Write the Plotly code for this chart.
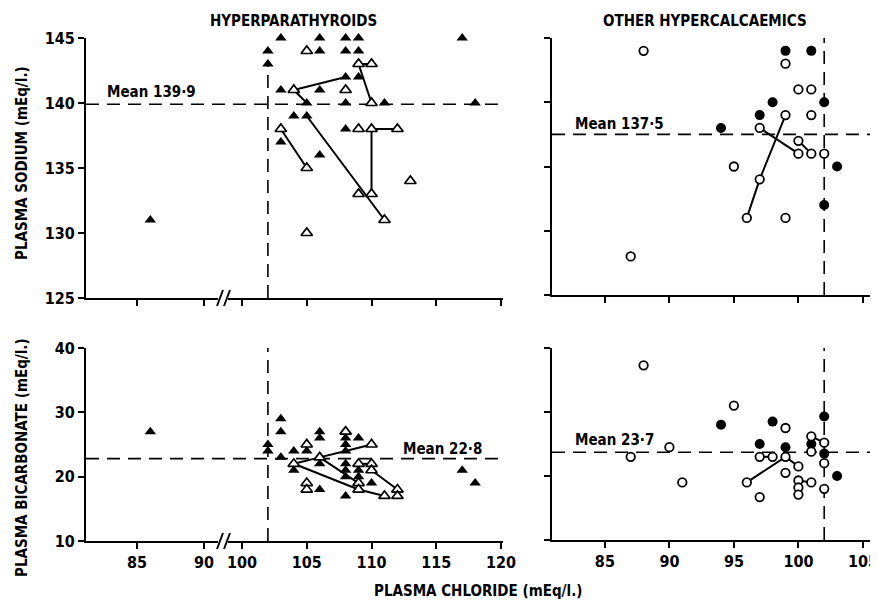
import plotly.graph_objects as go

# ---------------- data (mEq/l.) ----------------
# Hyperparathyroids: plasma chloride vs plasma sodium
hp_na_solid_cl = [86, 102, 102, 103, 103, 103, 104, 105, 105, 106, 106, 106, 106,
                  108, 109, 108, 109, 108, 109, 108, 108, 111, 117, 118]
hp_na_solid_na = [131, 144, 143, 145, 141, 137, 139, 140, 139, 145, 144, 141, 136,
                  145, 145, 144, 144, 142, 142, 140, 138, 140, 145, 140]
hp_na_open_cl = [105, 104, 103, 105, 105, 108, 109, 110, 110, 109, 110, 112, 109, 110, 111, 113]
hp_na_open_na = [144, 141, 138, 135, 130, 141, 143, 143, 140, 138, 138, 138, 133, 133, 131, 134]
hp_na_links = [
    [(108, 142), (104, 141), (105, 140)],
    [(103, 138), (105, 135)],
    [(105, 139), (111, 131)],
    [(110, 138), (110, 133)],
    [(110, 138), (112, 138)],
    [(109, 143), (110, 140)],
    [(109, 143), (110, 143)],
]
hp_na_mean = 139.9

# Hyperparathyroids: plasma chloride vs plasma bicarbonate
hp_bi_solid_cl = [86, 102, 102, 103, 103, 103, 104, 104, 105, 106, 106, 106, 106,
                  108, 108, 108, 108, 108, 108, 108, 109, 109, 109, 110, 117, 118]
hp_bi_solid_hc = [27, 25, 24, 29, 27, 23, 24, 21, 24, 27, 26, 22, 18,
                  26, 25, 24, 22, 21, 20, 17, 26, 21, 20, 19, 21, 19]
hp_bi_open_cl = [104, 105, 105, 105, 106, 108, 109, 109, 109, 110, 110, 110, 111, 112, 112]
hp_bi_open_hc = [22, 25, 19, 18, 23, 27, 22, 19, 18, 25, 22, 21, 17, 18, 17]
hp_bi_links = [
    [(104, 22), (106, 23)],
    [(104, 22), (109, 18)],
    [(106, 23), (109, 19)],
    [(106, 23), (108, 24)],
    [(108, 24), (110, 25)],
    [(109, 22), (110, 22)],
    [(110, 21), (112, 18)],
    [(109, 18), (111, 17)],
]
hp_bi_mean = 22.8

# Other hypercalcaemics: plasma chloride vs plasma sodium
oh_na_solid_cl = [99, 101, 98, 97, 94, 102, 103, 102]
oh_na_solid_na = [144, 144, 140, 139, 138, 140, 135, 132]
oh_na_open_cl = [88, 87, 95, 96, 97, 97, 99, 99, 99, 100, 101, 101, 100, 100, 101, 102]
oh_na_open_na = [144, 128, 135, 131, 134, 138, 139, 143, 131, 141, 141, 139, 137, 136, 136, 136]
oh_na_links = [
    [(96, 131), (97, 134), (99, 139)],
    [(97, 138), (100, 136)],
    [(100, 137), (101, 136)],
]
oh_na_mean = 137.5

# Other hypercalcaemics: plasma chloride vs plasma bicarbonate
oh_bi_solid_cl = [94, 98, 97, 99, 101, 102, 102, 103]
oh_bi_solid_hc = [28, 28.5, 25, 24.5, 25, 29.3, 23.5, 20]
oh_bi_open_cl = [88, 87, 90, 91, 95, 96, 97, 97, 98, 99, 99, 99, 100, 100, 100, 100,
                 101, 101, 101, 102, 102, 102]
oh_bi_open_hc = [37.3, 23, 24.5, 19, 31, 19, 16.7, 23, 23, 23, 27.5, 20.5, 21.5, 19.3, 18.2, 17.1,
                 19, 26.2, 23.8, 25.2, 22, 18]
oh_bi_links = [
    [(96, 19), (99, 23)],
    [(99, 23), (100, 21.5)],
    [(97, 23), (98, 23)],
    [(101, 26.2), (102, 25.2)],
    [(100, 19.3), (101, 19)],
]
oh_bi_mean = 23.7

normal_cl_upper = 102

# tick values
na_ticks = [125, 130, 135, 140, 145]
hc_ticks = [10, 20, 30, 40]
cl_ticks_left = [85, 90]
cl_ticks_right = [100, 105, 110, 115, 120]
cl_ticks_other = [85, 90, 95, 100, 105]

# ---------------- layout helpers ----------------
# the page body has an 8px margin, so the figure is 8px smaller than the window
OFF = 8
W, H = 878 - OFF, 602 - OFF
FONT = "DejaVu Sans Condensed, Liberation Sans Narrow, Arial Narrow, sans-serif"
BREAK = 95  # chloride values below this sit on the left (broken) segment


def px(x):
    return (x - OFF) / W


def py(y):
    return 1 - (y - OFF) / H


TL_Y = [py(298), py(38)]
BL_Y = [py(541), py(348)]
TR_Y = [py(295), py(38)]
BR_Y = [py(540), py(348)]
L_LEFT = [px(86), px(218)]
L_RIGHT = [px(228), px(503)]
R_DOM = [px(552), px(878)]

fig = go.Figure()

tri_solid = dict(symbol="triangle-up", size=10, color="black", line=dict(width=0))
tri_open = dict(symbol="triangle-up", size=10, color="white", line=dict(color="black", width=1.7))
dot_solid = dict(symbol="circle", size=10, color="black", line=dict(width=0))
dot_open = dict(symbol="circle", size=8.5, color="white", line=dict(color="black", width=1.8))


def add_links(links, xa, ya):
    for seg in links:
        fig.add_trace(go.Scatter(
            x=[p[0] for p in seg], y=[p[1] for p in seg], mode="lines",
            line=dict(color="black", width=2), xaxis=xa, yaxis=ya,
            hoverinfo="skip", cliponaxis=False))


def add_points(xs, ys, marker, xa, ya):
    fig.add_trace(go.Scatter(x=xs, y=ys, mode="markers", marker=marker,
                             xaxis=xa, yaxis=ya, cliponaxis=False))


def add_split(xs, ys, marker, xa_left, xa_right, ya):
    lx = [x for x in xs if x < BREAK]
    ly = [y for x, y in zip(xs, ys) if x < BREAK]
    rx = [x for x in xs if x >= BREAK]
    ry = [y for x, y in zip(xs, ys) if x >= BREAK]
    if lx:
        add_points(lx, ly, marker, xa_left, ya)
    if rx:
        add_points(rx, ry, marker, xa_right, ya)


# top-left
add_links(hp_na_links, "x2", "y")
add_split(hp_na_solid_cl, hp_na_solid_na, tri_solid, "x", "x2", "y")
add_split(hp_na_open_cl, hp_na_open_na, tri_open, "x", "x2", "y")
# bottom-left
add_links(hp_bi_links, "x4", "y2")
add_split(hp_bi_solid_cl, hp_bi_solid_hc, tri_solid, "x3", "x4", "y2")
add_split(hp_bi_open_cl, hp_bi_open_hc, tri_open, "x3", "x4", "y2")
# top-right
add_links(oh_na_links, "x5", "y3")
add_points(oh_na_solid_cl, oh_na_solid_na, dot_solid, "x5", "y3")
add_points(oh_na_open_cl, oh_na_open_na, dot_open, "x5", "y3")
# bottom-right
add_links(oh_bi_links, "x6", "y4")
add_points(oh_bi_solid_cl, oh_bi_solid_hc, dot_solid, "x6", "y4")
add_points(oh_bi_open_cl, oh_bi_open_hc, dot_open, "x6", "y4")

tickfont = dict(family=FONT, size=16, color="black", weight="bold")
common = dict(showgrid=False, zeroline=False, showline=True, linecolor="black", linewidth=2,
              ticks="outside", ticklen=6, tickwidth=2, tickcolor="black",
              tickfont=tickfont, fixedrange=True, automargin=False)

fig.update_layout(
    width=W, height=H, margin=dict(l=0, r=0, t=0, b=0, pad=0, autoexpand=False),
    paper_bgcolor="white", plot_bgcolor="white", showlegend=False,
    font=dict(family=FONT, color="black"),
    xaxis=dict(common, domain=L_LEFT, range=[81.2, 91.05], anchor="y",
               tickvals=cl_ticks_left, showticklabels=False),
    xaxis2=dict(common, domain=L_RIGHT, range=[98.92, 120.15], anchor="y",
                tickvals=cl_ticks_right, showticklabels=False),
    yaxis=dict(common, domain=TL_Y, range=[125, 145], anchor="x", tickvals=na_ticks),
    xaxis3=dict(common, domain=L_LEFT, range=[81.2, 91.05], anchor="y2",
                tickvals=cl_ticks_left),
    xaxis4=dict(common, domain=L_RIGHT, range=[98.92, 120.15], anchor="y2",
                tickvals=cl_ticks_right),
    yaxis2=dict(common, domain=BL_Y, range=[10, 40], anchor="x3", tickvals=hc_ticks),
    xaxis5=dict(common, domain=R_DOM, range=[80.9, 106.17], anchor="y3",
                tickvals=cl_ticks_other, showticklabels=False),
    yaxis3=dict(common, domain=TR_Y, range=[125, 145], anchor="x5", tickvals=na_ticks,
                showticklabels=False),
    xaxis6=dict(common, domain=R_DOM, range=[80.9, 106.17], anchor="y4",
                tickvals=cl_ticks_other),
    yaxis4=dict(common, domain=BR_Y, range=[10, 40], anchor="x6", tickvals=hc_ticks,
                showticklabels=False),
)

dash = "13px,8px"
dline = dict(color="black", width=1.6, dash=dash)
shapes = [
    # mean lines
    dict(type="line", xref="paper", yref="y", x0=L_LEFT[0], x1=L_RIGHT[1],
         y0=hp_na_mean, y1=hp_na_mean, line=dline, layer="below"),
    dict(type="line", xref="paper", yref="y2", x0=L_LEFT[0], x1=L_RIGHT[1],
         y0=hp_bi_mean, y1=hp_bi_mean, line=dline, layer="below"),
    dict(type="line", xref="paper", yref="y3", x0=R_DOM[0], x1=R_DOM[1],
         y0=oh_na_mean, y1=oh_na_mean, line=dline, layer="below"),
    dict(type="line", xref="paper", yref="y4", x0=R_DOM[0], x1=R_DOM[1],
         y0=oh_bi_mean, y1=oh_bi_mean, line=dline, layer="below"),
    # upper normal chloride
    dict(type="line", xref="x2", yref="y", x0=normal_cl_upper, x1=normal_cl_upper,
         y0=125, y1=143, line=dline, layer="below"),
    dict(type="line", xref="x4", yref="y2", x0=normal_cl_upper, x1=normal_cl_upper,
         y0=10, y1=40, line=dline, layer="below"),
    dict(type="line", xref="x5", yref="y3", x0=normal_cl_upper, x1=normal_cl_upper,
         y0=125, y1=145, line=dline, layer="below"),
    dict(type="line", xref="x6", yref="y4", x0=normal_cl_upper, x1=normal_cl_upper,
         y0=10, y1=40, line=dline, layer="below"),
]
# axis break marks "//"
for ybase in (298, 541):
    for x0 in (217, 224):
        shapes.append(dict(type="line", xref="paper", yref="paper",
                           x0=px(x0), x1=px(x0 + 6), y0=py(ybase + 8), y1=py(ybase - 8),
                           line=dict(color="black", width=2)))
fig.update_layout(shapes=shapes)

afont = dict(family=FONT, size=15, color="black", weight="bold")
mfont = dict(family=FONT, size=15, color="black", weight="bold")
annos = [
    dict(text="HYPERPARATHYROIDS", x=px(293), y=py(21), font=afont),
    dict(text="OTHER HYPERCALCAEMICS", x=px(705), y=py(21), font=afont),
    dict(text="PLASMA SODIUM (mEq/l.)", x=px(22), y=py(163), textangle=-90, font=afont),
    dict(text="PLASMA BICARBONATE (mEq/l.)", x=px(22), y=py(458), textangle=-90, font=afont),
    dict(text="PLASMA CHLORIDE (mEq/l.)", x=px(478), y=py(591), font=afont),
    dict(text="Mean 139·9", x=px(105), y=py(92), xanchor="left", font=mfont),
    dict(text="Mean 137·5", x=px(573), y=py(124), xanchor="left", font=mfont),
    dict(text="Mean 22·8", x=px(401), y=py(449), xanchor="left", font=mfont),
    dict(text="Mean 23·7", x=px(573), y=py(440), xanchor="left", font=mfont),
]
for a in annos:
    a.setdefault("xanchor", "center")
    a.update(xref="paper", yref="paper", yanchor="middle", showarrow=False)
fig.update_layout(annotations=annos)

fig.write_html("out.html")
